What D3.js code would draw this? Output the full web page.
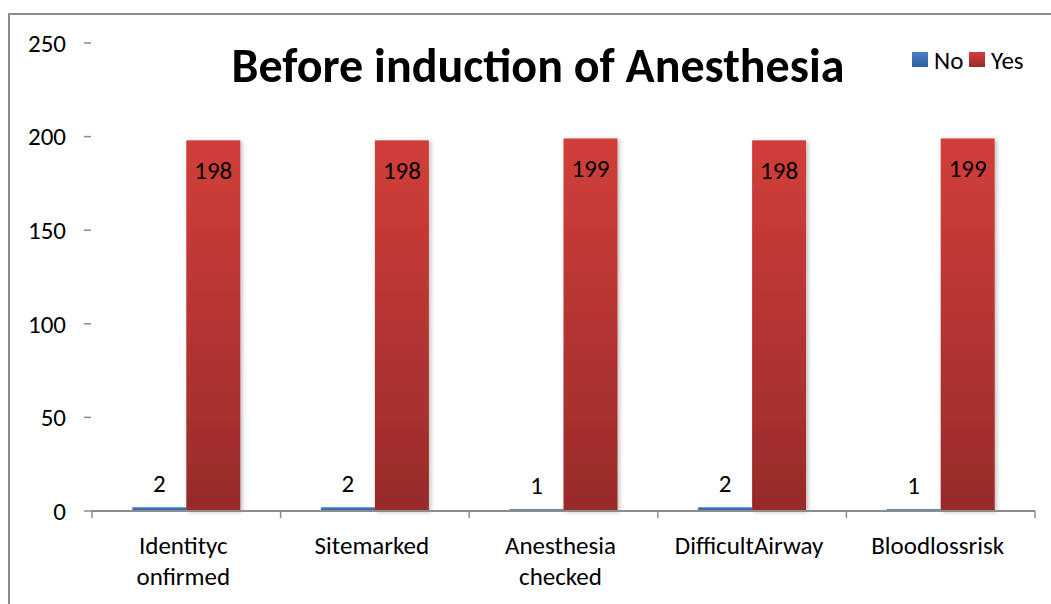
<!DOCTYPE html>
<html>
<head>
<meta charset="utf-8">
<script src="https://cdn.jsdelivr.net/npm/d3@7"></script>
<style>
  html, body { margin: 0; padding: 0; background: #fff; }
  svg { display: block; font-family: Carlito, Calibri, "Open Sans", sans-serif; }
</style>
</head>
<body>
<svg id="chart" width="1051" height="604"></svg>
<script>
// chart data
const categories = [
    ["Identityc", "onfirmed"],
    ["Sitemarked"],
    ["Anesthesia", "checked"],
    ["DifficultAirway"],
    ["Bloodlossrisk"]
]
const noValues = [2, 2, 1, 2, 1]
const yesValues = [198, 198, 199, 198, 199]
const seriesNames = ["No", "Yes"]
const yTicks = [0, 50, 100, 150, 200, 250]
const title = "Before induction of Anesthesia"

const svg = d3.select("#chart")
const W = 1051, H = 604
const FS = 25

// outer frame
svg.append("rect")
    .attr("x", 9).attr("y", 14)
    .attr("width", W + 20).attr("height", H + 20)
    .attr("fill", "none")
    .attr("stroke", "#8c8c8c")
    .attr("stroke-width", 2)

const defs = svg.append("defs")

// bar gradients, lighter at the top
const redGrad = defs.append("linearGradient")
    .attr("id", "redGrad").attr("x1", 0).attr("y1", 0).attr("x2", 0).attr("y2", 1)
redGrad.append("stop").attr("offset", "0%").attr("stop-color", "#d23e3a")
redGrad.append("stop").attr("offset", "100%").attr("stop-color", "#982b2a")

const blueGrad = defs.append("linearGradient")
    .attr("id", "blueGrad").attr("x1", 0).attr("y1", 0).attr("x2", 0).attr("y2", 1)
blueGrad.append("stop").attr("offset", "0%").attr("stop-color", "#4a7fc9")
blueGrad.append("stop").attr("offset", "100%").attr("stop-color", "#2c5d9e")

const shadow = defs.append("filter").attr("id", "shadow")
    .attr("x", "-20%").attr("y", "-5%").attr("width", "140%").attr("height", "110%")
shadow.append("feDropShadow")
    .attr("dx", 2).attr("dy", 1).attr("stdDeviation", 2)
    .attr("flood-color", "#000").attr("flood-opacity", 0.25)

// scales
const x = d3.scaleBand()
    .domain(d3.range(categories.length))
    .range([92, 1035])

const y = d3.scaleLinear()
    .domain([0, 250])
    .range([511, 43])

const barW = 54
const noOffset = x.bandwidth() / 2 - barW
const yesOffset = x.bandwidth() / 2

// y ticks: just the little dashes and labels, no axis line
const yAxis = svg.append("g")
yAxis.selectAll("line")
    .data(yTicks)
    .join("line")
    .attr("x1", 84).attr("x2", 91)
    .attr("y1", d => y(d)).attr("y2", d => y(d))
    .attr("stroke", "#8c8c8c")
    .attr("stroke-width", 1.5)
yAxis.selectAll("text")
    .data(yTicks)
    .join("text")
    .attr("x", 66)
    .attr("y", d => y(d))
    .attr("dy", "0.35em")
    .attr("text-anchor", "end")
    .attr("font-size", FS)
    .attr("fill", "#000")
    .text(d => d)

// bars
const groups = svg.append("g").selectAll("g")
    .data(categories.map((c, i) => ({i, no: noValues[i], yes: yesValues[i]})))
    .join("g")
    .attr("transform", d => `translate(${x(d.i)},0)`)

groups.append("rect")
    .attr("x", noOffset)
    .attr("y", d => y(d.no))
    .attr("width", barW)
    .attr("height", d => y(0) - y(d.no))
    .attr("fill", "url(#blueGrad)")
    .attr("filter", "url(#shadow)")

groups.append("rect")
    .attr("x", yesOffset)
    .attr("y", d => y(d.yes))
    .attr("width", barW)
    .attr("height", d => y(0) - y(d.yes))
    .attr("fill", "url(#redGrad)")
    .attr("filter", "url(#shadow)")

// value labels
groups.append("text")
    .attr("x", noOffset + barW / 2)
    .attr("y", d => y(d.no) - 15)
    .attr("text-anchor", "middle")
    .attr("font-size", FS)
    .text(d => d.no)

groups.append("text")
    .attr("x", yesOffset + barW / 2)
    .attr("y", d => y(d.yes) + 39)
    .attr("text-anchor", "middle")
    .attr("font-size", FS)
    .text(d => d.yes)

// x axis line with ticks at band edges
const xAxis = svg.append("g")
xAxis.append("line")
    .attr("x1", 91).attr("x2", 1035)
    .attr("y1", y(0)).attr("y2", y(0))
    .attr("stroke", "#8c8c8c").attr("stroke-width", 2)
xAxis.selectAll("line.tick")
    .data(d3.range(categories.length + 1))
    .join("line")
    .attr("class", "tick")
    .attr("x1", d => x.range()[0] + d * x.step())
    .attr("x2", d => x.range()[0] + d * x.step())
    .attr("y1", y(0)).attr("y2", y(0) + 7)
    .attr("stroke", "#8c8c8c").attr("stroke-width", 1.5)

// category labels, may be two lines
const catText = xAxis.selectAll("text.cat")
    .data(categories)
    .join("text")
    .attr("class", "cat")
    .attr("text-anchor", "middle")
    .attr("font-size", FS)
    .attr("y", 554)
catText.selectAll("tspan")
    .data((d, i) => d.map(line => ({line, i})))
    .join("tspan")
    .attr("x", d => x(d.i) + x.bandwidth() / 2 - 3)
    .attr("dy", (d, j) => j === 0 ? 0 : 31)
    .text(d => d.line)

// title, fit to the width it has in the picture
const titleText = svg.append("text")
    .attr("x", 538)
    .attr("y", 82)
    .attr("text-anchor", "middle")
    .attr("font-size", 40)
    .attr("font-weight", "bold")
    .text(title)
const tw = titleText.node().getComputedTextLength()
if (tw > 0) titleText.attr("font-size", 40 * 613 / tw)

// legend
const legendColors = ["url(#blueGrad)", "url(#redGrad)"]
const legendX = [912, 969]
const legend = svg.append("g").selectAll("g")
    .data(seriesNames)
    .join("g")
    .attr("transform", (d, i) => `translate(${legendX[i]},52)`)
legend.append("rect")
    .attr("width", 16).attr("height", 15)
    .attr("fill", (d, i) => legendColors[i])
legend.append("text")
    .attr("x", 22).attr("y", 8)
    .attr("dy", "0.35em")
    .attr("font-size", FS)
    .text(d => d)
</script>
</body>
</html>
